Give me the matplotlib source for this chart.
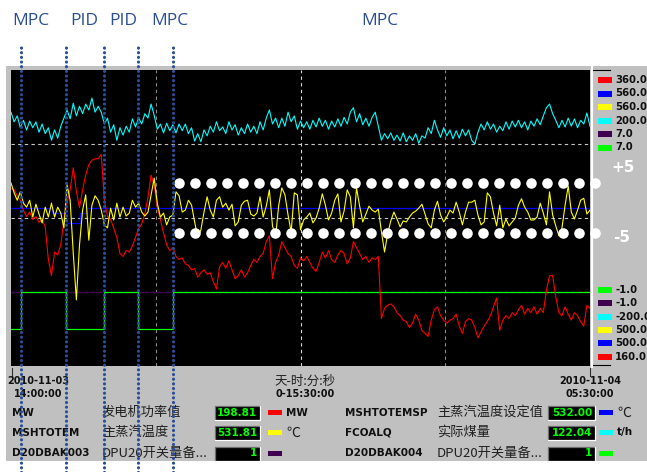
import numpy as np
import pandas as pd
import matplotlib.pyplot as plt
from matplotlib.patches import Rectangle
from matplotlib.lines import Line2D
from matplotlib import transforms

plt.rcParams['font.family'] = ['DejaVu Sans', 'Noto Sans CJK SC']
CJK = ['Noto Sans CJK SC', 'DejaVu Sans']

# ---------------- data ----------------
t_start = pd.Timestamp('2010-11-03 14:00:00')
span_min = 930                                  # 0-15:30:00
sample_min = np.arange(0, span_min + 1, 5)      # one sample every 5 min

# MW  发电机功率值 (red)
mw = [280, 279, 275, 272, 265, 261, 264, 259, 261, 257,
      259, 254, 232, 221, 237, 235, 242, 259, 270, 279,
      294, 278, 267, 279, 289, 296, 299, 300, 300, 303,
      272, 261, 259, 253, 247, 236, 234, 238, 237, 241,
      247, 253, 256, 263, 274, 289, 282, 267, 259, 250,
      242, 238, 240, 234, 232, 233, 229, 228, 225, 226,
      220, 223, 225, 222, 223, 217, 212, 227, 230, 226,
      231, 225, 219, 221, 225, 220, 223, 228, 232, 230,
      234, 236, 244, 248, 219, 230, 235, 244, 240, 236,
      234, 228, 226, 233, 231, 234, 230, 226, 224, 230,
      237, 233, 238, 232, 230, 235, 238, 236, 229, 233,
      244, 240, 236, 232, 234, 230, 233, 232, 234, 192,
      199, 201, 202, 200, 196, 194, 191, 190, 186, 189,
      195, 191, 184, 182, 180, 191, 198, 200, 194, 191,
      189, 191, 192, 195, 187, 182, 190, 192, 191, 186,
      179, 183, 187, 190, 194, 200, 206, 184, 191, 194,
      192, 196, 194, 198, 201, 195, 199, 196, 200, 195,
      199, 196, 211, 221, 221, 207, 196, 194, 200, 195,
      191, 196, 194, 190, 187, 201, 199]

# MSHTOTEM  主蒸汽温度 (yellow)
mshtotem = [537.1, 535.1, 533.6, 535.3, 533.0, 532.2, 533.6, 530.2, 532.8, 530.8,
            529.0, 532.2, 530.2, 533.0, 530.2, 532.2, 531.0, 528.0, 536.7, 533.6,
            522.9, 513.4, 524.5, 531.6, 534.7, 525.5, 532.6, 534.5, 533.6, 531.6,
            528.6, 528.0, 532.0, 529.6, 533.0, 530.2, 532.2, 530.4, 531.0, 533.6,
            532.2, 533.0, 531.2, 530.4, 531.2, 534.7, 538.1, 533.0, 530.2, 531.0,
            528.6, 530.2, 530.6, 535.3, 534.5, 531.2, 531.6, 533.6, 532.6, 529.2,
            526.0, 527.6, 531.2, 534.3, 531.6, 530.2, 533.6, 534.3, 532.2, 533.0,
            531.6, 532.8, 528.4, 529.2, 532.6, 533.4, 533.6, 530.8, 530.4, 531.0,
            534.3, 530.2, 532.4, 535.7, 528.4, 526.2, 532.6, 536.1, 534.7, 530.6,
            527.2, 535.1, 534.7, 527.6, 529.6, 530.2, 531.0, 529.0, 530.0, 532.0,
            534.9, 532.6, 529.6, 531.0, 533.6, 534.9, 529.2, 531.4, 535.7, 534.3,
            528.0, 536.1, 532.4, 529.2, 530.8, 532.4, 531.6, 531.2, 531.8, 527.2,
            523.1, 526.8, 529.4, 531.2, 529.8, 528.2, 529.4, 529.2, 530.2, 531.0,
            531.4, 532.0, 532.8, 530.8, 528.8, 528.0, 531.6, 533.4, 530.6, 529.2,
            530.2, 531.6, 531.0, 533.2, 531.2, 528.6, 531.2, 533.2, 533.2, 533.6,
            530.6, 528.6, 529.2, 535.1, 534.3, 531.0, 528.4, 532.6, 528.0, 529.8,
            528.4, 529.2, 530.0, 532.6, 533.9, 532.2, 531.2, 529.6, 529.6, 530.2,
            533.0, 531.0, 528.6, 535.3, 530.6, 528.4, 526.4, 528.0, 532.6, 536.5,
            531.2, 529.8, 531.6, 533.6, 534.0, 530.8, 531.6]

# FCOALQ  实际煤量 (cyan)
fcoalq = [143, 130, 138, 122, 132, 119, 131, 122, 130, 116,
          127, 114, 122, 105, 119, 108, 124, 135, 146, 134,
          155, 138, 151, 141, 154, 146, 162, 143, 151, 143,
          127, 135, 116, 126, 105, 122, 112, 124, 116, 134,
          123, 135, 127, 141, 135, 154, 139, 120, 127, 115,
          128, 118, 126, 115, 127, 118, 127, 114, 122, 104,
          114, 103, 119, 111, 124, 116, 130, 118, 123, 114,
          130, 119, 126, 112, 122, 114, 127, 116, 124, 114,
          130, 119, 135, 146, 127, 135, 122, 135, 124, 143,
          130, 138, 120, 131, 122, 130, 120, 132, 123, 135,
          124, 132, 120, 131, 123, 134, 124, 136, 127, 143,
          149, 130, 141, 126, 135, 124, 136, 143, 124, 105,
          114, 107, 115, 105, 112, 104, 115, 103, 111, 105,
          114, 101, 111, 108, 122, 114, 132, 119, 109, 122,
          111, 119, 107, 118, 108, 120, 111, 119, 105, 100,
          116, 127, 119, 130, 120, 127, 116, 124, 118, 130,
          120, 131, 123, 132, 122, 130, 119, 131, 124, 134,
          126, 138, 149, 154, 141, 132, 122, 132, 123, 135,
          124, 134, 122, 132, 127, 142, 124]

# MSHTOTEMSP  主蒸汽温度设定值 (blue, step changes)
sp_min = [0, 66, 90, 111, 122, span_min]
mshtotemsp = [532, 531, 529, 531, 532, 532]

# D20DBAK004 (green, MPC on/off)   D20DBAK003 (purple)
mode_min = [0, 16, 89, 149, 204, 260, span_min]
d20dbak004 = [0, 1, 0, 1, 0, 1, 1]
bak003_min = [0, span_min]
d20dbak003 = [1, 1]

band = 5  # +/-5 around the setpoint

tags = ['MW', 'MSHTOTEM', 'D20DBAK003', 'MSHTOTEMSP', 'FCOALQ', 'D20DBAK004']
descs = ['发电机功率值', '主蒸汽温度', 'DPU20开关量备...', '主蒸汽温度设定值', '实际煤量', 'DPU20开关量备...']
current = ['198.81', '531.81', '1', '532.00', '122.04', '1']
units = ['MW', '℃', '', '℃', 't/h', '']
colors = {'MW': '#ff0000', 'MSHTOTEM': '#ffff00', 'D20DBAK003': '#400050',
          'MSHTOTEMSP': '#0000ff', 'FCOALQ': '#00ffff', 'D20DBAK004': '#00ff00'}
scale_hi = {'MW': 360, 'MSHTOTEMSP': 560, 'MSHTOTEM': 560, 'FCOALQ': 200, 'D20DBAK003': 7, 'D20DBAK004': 7}
scale_lo = {'MW': 160, 'MSHTOTEMSP': 500, 'MSHTOTEM': 500, 'FCOALQ': -200, 'D20DBAK003': -1, 'D20DBAK004': -1}
legend_order = ['MW', 'MSHTOTEMSP', 'MSHTOTEM', 'FCOALQ', 'D20DBAK003', 'D20DBAK004']

# ---------------- figure ----------------
W, H = 647, 472
fig = plt.figure(figsize=(W / 100, H / 100), dpi=100)
fig.patch.set_facecolor('white')


def px_rect(x0, y0, x1, y1, **kw):
    r = Rectangle((x0 / W, 1 - y1 / H), (x1 - x0) / W, (y1 - y0) / H,
                  transform=fig.transFigure, **kw)
    fig.add_artist(r)


def px_line(xs, ys, **kw):
    fig.add_artist(Line2D([x / W for x in xs], [1 - y / H for y in ys],
                          transform=fig.transFigure, **kw))


def px_text(x, y, s, **kw):
    fig.text(x / W, 1 - y / H, s, **kw)


# grey window panel
px_rect(6, 66, 647, 461, facecolor='#c0c0c0', edgecolor='none', zorder=-2)

ax = fig.add_axes([11 / W, 1 - 366 / H, 579 / W, 296 / H])
ax.set_facecolor('black')
ax.set_xlim(0, span_min)
ax.set_ylim(0, 4)
ax.set_xticks([])
ax.set_yticks([])
for s in ax.spines.values():
    s.set_visible(False)
for k, c in zip([1, 2, 3], ['#8c8c8c', '#d8d8d8', '#8c8c8c']):
    ax.axvline(span_min * k / 4, color=c, lw=0.8, ls=(0, (3, 3)))
for k in [1, 2, 3]:
    ax.axhline(k, color='#c8c8c8', lw=0.8, ls=(0, (3, 3)))


def scale_axes(tag):
    a = ax.twinx()
    a.set_ylim(scale_lo[tag], scale_hi[tag])
    a.set_axis_off()
    return a


a_sp = scale_axes('MSHTOTEMSP')
a_sp.plot(sp_min, mshtotemsp, color=colors['MSHTOTEMSP'], lw=0.9, drawstyle='steps-post')

a_b3 = scale_axes('D20DBAK003')
a_b3.plot(bak003_min, d20dbak003, color=colors['D20DBAK003'], lw=0.9)
a_b4 = scale_axes('D20DBAK004')
a_b4.plot(mode_min, d20dbak004, color=colors['D20DBAK004'], lw=0.9, drawstyle='steps-post')

a_mw = scale_axes('MW')
a_mw.plot(sample_min, mw, color=colors['MW'], lw=0.8)

a_t = scale_axes('MSHTOTEM')
a_t.plot(sample_min, mshtotem, color=colors['MSHTOTEM'], lw=0.8)

a_c = scale_axes('FCOALQ')
a_c.plot(sample_min, fcoalq, color=colors['FCOALQ'], lw=0.8)

# +/-5 limit markers (white dots) after MPC switched on
dot_t = np.linspace(270, 938, 27)
for lvl in [mshtotemsp[-1] + band, mshtotemsp[-1] - band]:
    a_t.plot(dot_t, [lvl] * len(dot_t), 'o', color='white', ms=7.6, mew=0,
             clip_on=False, zorder=5)
px_text(623, 167, '+%d' % band, color='white', fontsize=11, fontweight='bold', ha='center', va='center')
px_text(622, 237, '-%d' % band, color='white', fontsize=11, fontweight='bold', ha='center', va='center')

# separator and legend panel
px_line([591.5, 591.5], [67, 367], color='white', lw=1.6)
px_line([593, 610], [70, 70], color='black', lw=0.8)
px_line([593, 610], [364.5, 364.5], color='black', lw=0.8)
for i, tag in enumerate(legend_order):
    y = 80 + i * 13.5
    px_rect(598, y - 3, 612, y + 3, facecolor=colors[tag], edgecolor='none')
    px_text(615, y, '%.1f' % scale_hi[tag], fontsize=7.3, fontweight='bold', va='center', color='#101010')
for i, tag in enumerate(legend_order[::-1]):
    y = 290 + i * 13.3
    px_rect(598, y - 3, 612, y + 3, facecolor=colors[tag], edgecolor='none')
    px_text(615, y, '%.1f' % scale_lo[tag], fontsize=7.3, fontweight='bold', va='center', color='#101010')

# time axis labels
t_end = t_start + pd.Timedelta(minutes=span_min)
span_txt = '%d-%02d:%02d:00' % (span_min // 1440, (span_min % 1440) // 60, span_min % 60)
px_line([11.5, 11.5], [368, 376], color='#303030', lw=0.8)
px_line([590, 590], [368, 376], color='#303030', lw=0.8)
bold7 = dict(fontsize=7, fontweight='bold', ha='center', va='center', color='#101010')
px_text(38, 381.5, t_start.strftime('%Y-%m-%d'), **bold7)
px_text(38, 394, t_start.strftime('%H:%M:%S'), **bold7)
px_text(590, 381.5, t_end.strftime('%Y-%m-%d'), **bold7)
px_text(590, 394, t_end.strftime('%H:%M:%S'), **bold7)
px_text(305, 381.5, '天-时:分:秒', fontsize=9, family=CJK, ha='center', va='center', color='#202020')
px_text(305, 394, span_txt, **bold7)

# tag table
col_x = [(12, 102, 215, 260, 268, 286), (345, 437, 548, 595, 599, 617)]
row_y = [412.5, 432.5, 453.5]
for i, tag in enumerate(tags):
    xt, xd, b0, b1, sw, xu = col_x[i // 3]
    y = row_y[i % 3]
    px_text(xt, y, tag, fontsize=7.5, fontweight='bold', va='center', color='#101010')
    px_text(xd, y, descs[i], fontsize=9.5, family=CJK, va='center', color='#202020')
    px_rect(b0, y - 7, b1, y + 7, facecolor='black', edgecolor='none')
    px_line([b0, b0, b1], [y + 7, y - 7, y - 7], color='#707070', lw=0.9)
    px_line([b0, b1, b1], [y + 7.5, y + 7.5, y - 7], color='white', lw=0.9)
    px_text(b1 - 3, y, current[i], fontsize=7.5, fontweight='bold', ha='right', va='center', color='#00ff00')
    px_rect(sw, y - 2.5, sw + 14, y + 2.5, facecolor=colors[tag], edgecolor='none')
    if units[i] == '℃':
        px_text(xu, y, units[i], fontsize=10, family=CJK, va='center', color='#202020')
    elif units[i]:
        px_text(xu, y, units[i], fontsize=7.5, fontweight='bold', va='center', color='#101010')

# control mode annotations (blue dotted lines + labels)
blend = transforms.blended_transform_factory(ax.transData, fig.transFigure)
for t in mode_min[1:6]:
    fig.add_artist(Line2D([t, t], [0, 1 - 47 / H], transform=blend, color='#2a4f9a',
                          lw=2.3, ls=(0, (0.01, 1.45)), dash_capstyle='round', zorder=10))
for label, xc in zip(['MPC', 'PID', 'PID', 'MPC', 'MPC'], [31, 84, 123, 170, 380]):
    px_text(xc, 21, label, fontsize=12.5, family=['Open Sans', 'DejaVu Sans'],
            ha='center', va='center', color='#2a4e96')

fig.savefig('out.png', dpi=100)
